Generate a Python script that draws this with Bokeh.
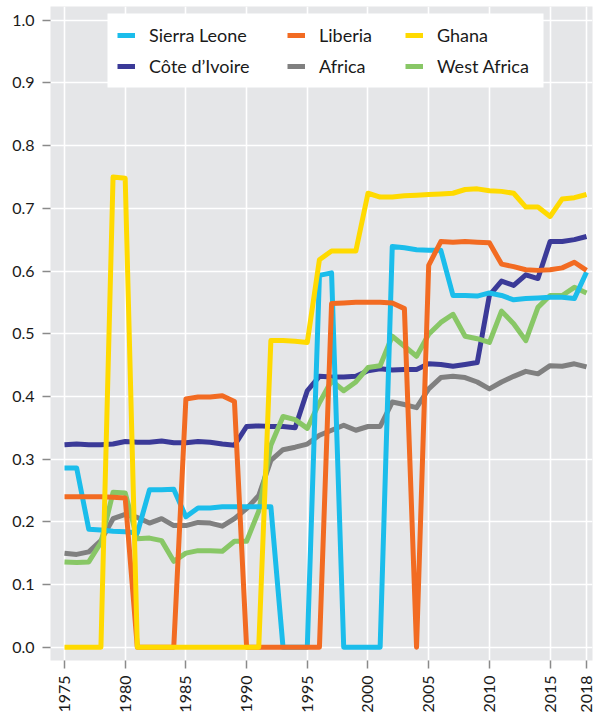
import math
from bokeh.plotting import figure
from bokeh.models import (ColumnDataSource, FixedTicker, PrintfTickFormatter,
                          Legend, LegendItem, Range1d, BoxAnnotation)
from bokeh.embed import file_html
from bokeh.resources import INLINE

years = list(range(1975, 2019))

sierra_leone = [
    0.286, 0.286, 0.188, 0.187, 0.185, 0.184, 0.182, 0.251, 0.251, 0.252,
    0.208, 0.222, 0.222, 0.224, 0.224, 0.224, 0.224, 0.224, 0.0, 0.0,
    0.0, 0.593, 0.597, 0.0, 0.0, 0.0, 0.0, 0.639, 0.637, 0.634,
    0.633, 0.633, 0.561, 0.561, 0.560, 0.565, 0.561, 0.554, 0.556, 0.557,
    0.558, 0.558, 0.556, 0.598]

liberia = [
    0.240, 0.240, 0.240, 0.240, 0.239, 0.238, 0.0, 0.0, 0.0, 0.0,
    0.396, 0.399, 0.399, 0.401, 0.392, 0.0, 0.0, 0.0, 0.0, 0.0,
    0.0, 0.0, 0.548, 0.549, 0.550, 0.550, 0.550, 0.549, 0.540, 0.0,
    0.609, 0.647, 0.646, 0.647, 0.646, 0.645, 0.611, 0.607, 0.602, 0.601,
    0.602, 0.605, 0.614, 0.601]

ghana = [
    0.0, 0.0, 0.0, 0.0, 0.750, 0.748, 0.0, 0.0, 0.0, 0.0,
    0.0, 0.0, 0.0, 0.0, 0.0, 0.0, 0.0, 0.489, 0.489, 0.488,
    0.486, 0.618, 0.632, 0.632, 0.632, 0.724, 0.718, 0.718, 0.720, 0.721,
    0.722, 0.723, 0.724, 0.730, 0.731, 0.728, 0.727, 0.724, 0.702, 0.702,
    0.687, 0.715, 0.717, 0.722]

cote_divoire = [
    0.323, 0.324, 0.323, 0.323, 0.324, 0.328, 0.327, 0.327, 0.329, 0.326,
    0.326, 0.328, 0.327, 0.324, 0.322, 0.352, 0.353, 0.352, 0.352, 0.350,
    0.409, 0.432, 0.431, 0.431, 0.432, 0.441, 0.444, 0.442, 0.443, 0.443,
    0.452, 0.451, 0.448, 0.451, 0.454, 0.561, 0.584, 0.577, 0.594, 0.588,
    0.647, 0.647, 0.650, 0.655]

africa = [
    0.150, 0.148, 0.152, 0.170, 0.205, 0.212, 0.207, 0.198, 0.205, 0.194,
    0.194, 0.199, 0.198, 0.193, 0.205, 0.221, 0.242, 0.298, 0.315, 0.319,
    0.324, 0.338, 0.346, 0.354, 0.346, 0.352, 0.352, 0.391, 0.387, 0.382,
    0.412, 0.430, 0.432, 0.430, 0.423, 0.412, 0.423, 0.432, 0.440, 0.436,
    0.449, 0.448, 0.452, 0.447]

west_africa = [
    0.136, 0.135, 0.136, 0.167, 0.247, 0.246, 0.173, 0.174, 0.170, 0.137,
    0.150, 0.154, 0.154, 0.153, 0.169, 0.169, 0.217, 0.322, 0.368, 0.363,
    0.349, 0.390, 0.425, 0.409, 0.423, 0.446, 0.449, 0.496, 0.480, 0.464,
    0.499, 0.518, 0.531, 0.496, 0.492, 0.486, 0.536, 0.516, 0.489, 0.542,
    0.561, 0.561, 0.574, 0.565]

x_ticks = [1975, 1980, 1985, 1990, 1995, 2000, 2005, 2010, 2015, 2018]
y_ticks = [0.0, 0.1, 0.2, 0.3, 0.4, 0.5, 0.6, 0.7, 0.8, 0.9, 1.0]

# legend columns (row-major in the reference: 3 columns x 2 rows)
legend_columns = [["Sierra Leone", "Côte d\u2019Ivoire"],
                  ["Liberia", "Africa"],
                  ["Ghana", "West Africa"]]
series = {
    "Sierra Leone": (sierra_leone, "#1BBDEB"),
    "Liberia": (liberia, "#F26B22"),
    "Ghana": (ghana, "#FFDA00"),
    "Côte d\u2019Ivoire": (cote_divoire, "#3B3A98"),
    "Africa": (africa, "#808080"),
    "West Africa": (west_africa, "#88C766"),
}
draw_order = ["Africa", "Côte d\u2019Ivoire", "West Africa", "Sierra Leone", "Liberia", "Ghana"]

FONT = "Lato"

p = figure(width=595, height=717, output_backend="svg", toolbar_location=None,
           x_range=Range1d(1973.847, 2018.494), y_range=Range1d(-0.0212, 1.02185),
           min_border_left=50, min_border_right=3, min_border_top=6,
           min_border_bottom=57)

p.background_fill_color = "#E5E6E8"
p.border_fill_color = "white"
p.outline_line_color = None

p.xgrid.ticker = FixedTicker(ticks=x_ticks)
p.ygrid.ticker = FixedTicker(ticks=y_ticks)
p.grid.grid_line_color = "white"
p.grid.grid_line_width = 1.6

p.xaxis.ticker = FixedTicker(ticks=x_ticks)
p.yaxis.ticker = FixedTicker(ticks=y_ticks)
p.yaxis.formatter = PrintfTickFormatter(format="%.1f")
p.xaxis.major_label_orientation = math.pi / 2
for ax in (p.xaxis, p.yaxis):
    ax.axis_line_color = None
    ax.major_tick_line_color = "#8A8A8A"
    ax.major_tick_line_width = 1.5
    ax.major_tick_out = 8
    ax.major_tick_in = 0
    ax.minor_tick_line_color = None
    ax.major_label_text_font = FONT
    ax.major_label_text_font_size = "16px"
    ax.major_label_text_color = "#1a1a1a"
p.yaxis.major_label_standoff = 8
p.xaxis.major_label_standoff = 7

renderers = {}
for name in draw_order:
    vals, col = series[name]
    src = ColumnDataSource(data=dict(x=years, y=vals))
    renderers[name] = p.line("x", "y", source=src, line_color=col, line_width=5,
                             line_join="round")

# white legend panel
box = BoxAnnotation(left=107, right=543, top=13, bottom=87,
                    left_units="canvas", right_units="canvas",
                    top_units="canvas", bottom_units="canvas",
                    fill_color="white", fill_alpha=1.0, line_color=None,
                    level="annotation")
p.add_layout(box)

col_x = [67, 237, 355]
for names, lx in zip(legend_columns, col_x):
    items = [LegendItem(label=n, renderers=[renderers[n]]) for n in names]
    lg = Legend(items=items, location=(lx, 582), orientation="vertical")
    lg.label_text_font = FONT
    lg.label_text_font_size = "18px"
    lg.label_text_color = "#1a1a1a"
    lg.glyph_width = 18
    lg.glyph_height = 24
    lg.label_height = 24
    lg.label_standoff = 14
    lg.spacing = 7
    lg.padding = 0
    lg.margin = 0
    lg.border_line_color = None
    lg.background_fill_alpha = 0.0
    p.add_layout(lg, "center")

open("out.html", "w").write(file_html(p, INLINE))
